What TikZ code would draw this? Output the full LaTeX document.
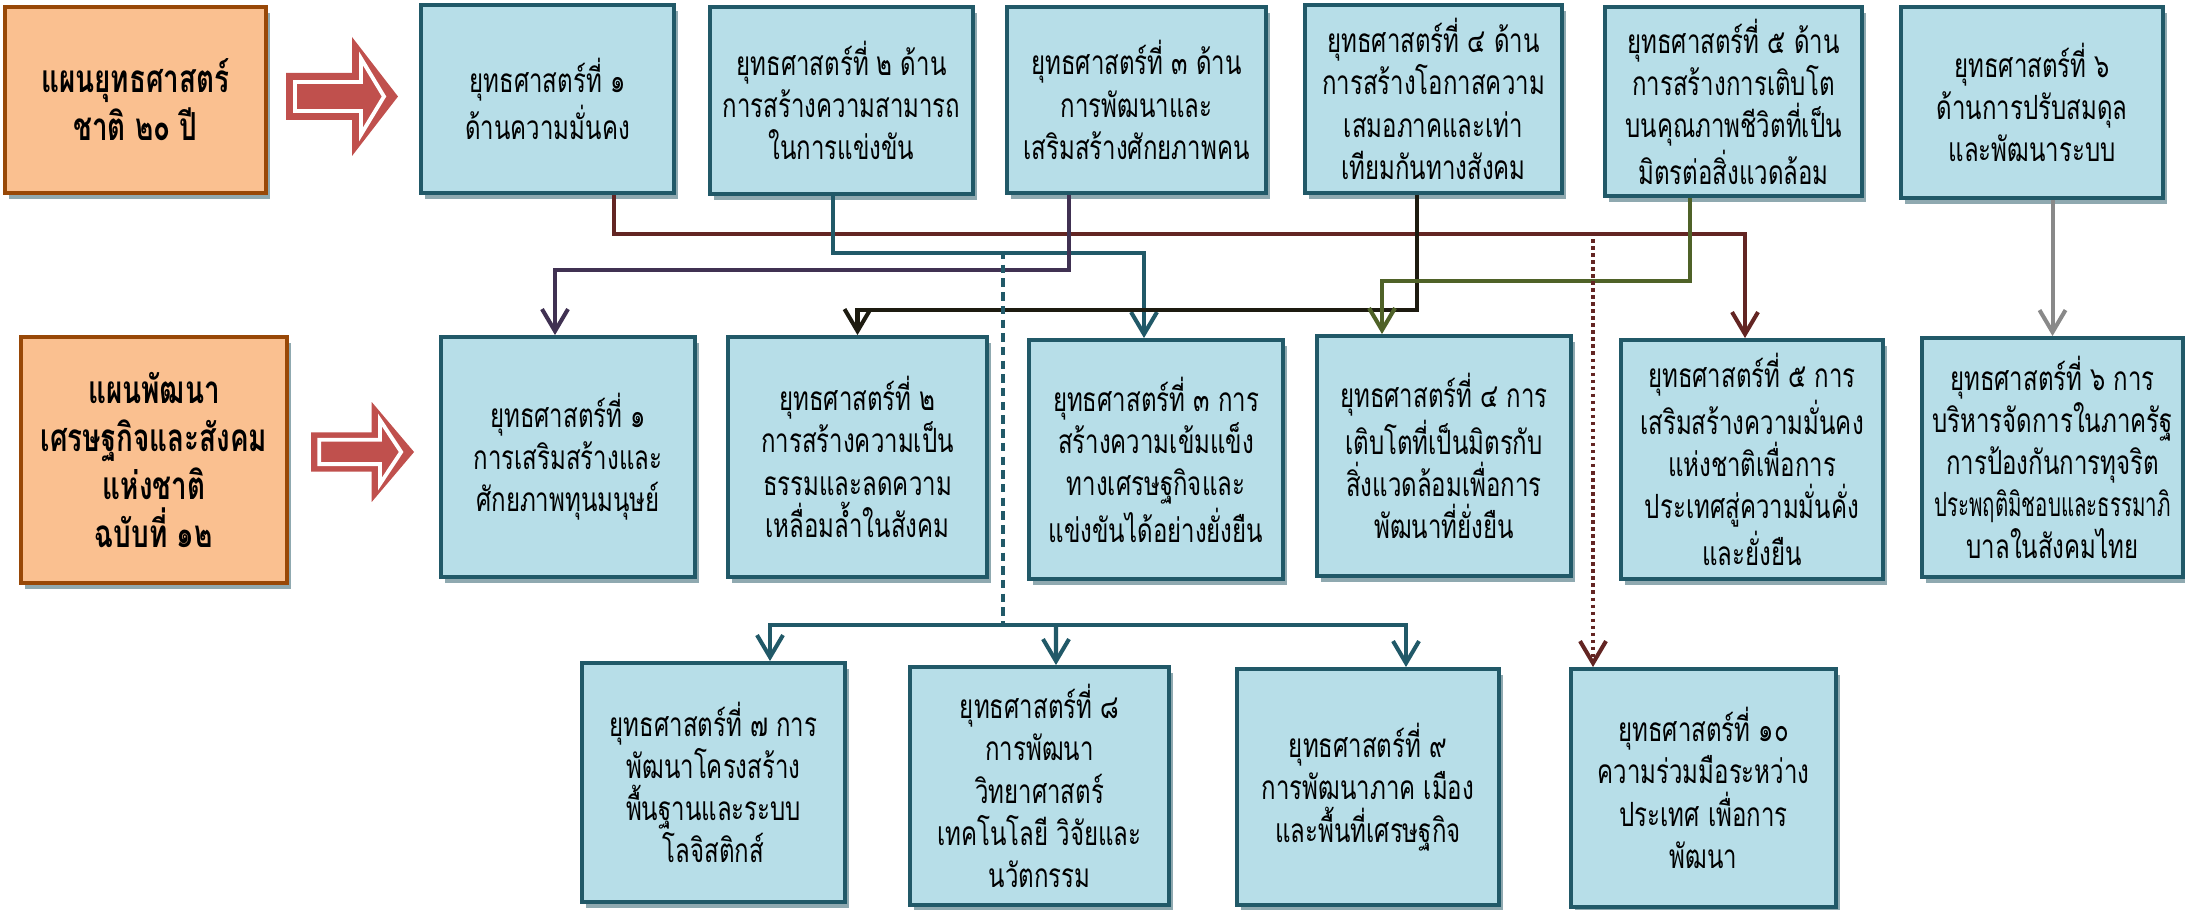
\documentclass[tikz,border=0pt]{standalone}
\usepackage{fontspec}
\newfontfamily\thaifont[Script=Thai, FakeStretch=0.72]{Loma}
\usepackage{tikz}
\usetikzlibrary{arrows.meta}
\usetikzlibrary{shadows}
\definecolor{planfill}{HTML}{FAC090}
\definecolor{planedge}{HTML}{984807}
\definecolor{stratfill}{HTML}{B7DEE8}
\definecolor{stratedge}{HTML}{215968}
\definecolor{shadegrey}{HTML}{8FA9B0}
\definecolor{arrowred}{HTML}{C0504D}
\definecolor{lmaroon}{HTML}{632523}
\definecolor{lpurple}{HTML}{403152}
\definecolor{lteal}{HTML}{215968}
\definecolor{lblack}{HTML}{1D1B10}
\definecolor{lolive}{HTML}{4F6228}
\definecolor{lgrey}{HTML}{898989}
\tikzset{
stratbox/.style 2 args = {draw=stratedge, fill=stratfill, line width=1.1pt,
    minimum width=#1, minimum height=#2, align=center, inner sep=2pt,
    font=\thaifont\fontsize{9.5}{12}\selectfont,
    general shadow={fill=shadegrey, shadow xshift=0.04cm, shadow yshift=-0.06cm}},
planbox/.style 2 args = {stratbox={#1}{#2}, draw=planedge, fill=planfill,
    font=\thaifont\bfseries\fontsize{11}{13.7}\selectfont},
link/.style = {line width=1.15pt, -{Straight Barb[length=2.2mm,width=2.6mm]}},
bigarrow/.pic = {
    \fill[arrowred] (0,0.235) -- (0.66,0.235) -- (0.66,0.595) -- (1.12,0)
        -- (0.66,-0.595) -- (0.66,-0.235) -- (0,-0.235) -- cycle;
    \draw[white, line width=1.1pt] (0.09,0.145) -- (0.75,0.145) -- (0.75,0.38)
        -- (0.98,0) -- (0.75,-0.38) -- (0.75,-0.145) -- (0.09,-0.145) -- cycle;
}
}
\tikzstyle{junction}=[inner sep=0pt]

\begin{document}
\begin{tikzpicture}
    \useasboundingbox (0,0) rectangle (21.85,-9.10);

    % plans
    \node[planbox={2.61cm}{1.86cm}] (nesp) at (1.355,-1.00) {แผนยุทธศาสตร์\\ชาติ ๒๐ ปี};
    \node[planbox={2.66cm}{2.46cm}] (nesdp) at (1.54,-4.60) {แผนพัฒนา\\เศรษฐกิจและสังคม\\แห่งชาติ\\ฉบับที่ ๑๒};
    \pic at (2.86,-0.965) {bigarrow};
    \pic[xscale=0.92, yscale=0.84] at (3.11,-4.52) {bigarrow};

    % 20-year strategies
    \node[stratbox={2.53cm}{1.88cm}] (t1) at (5.475,-0.99) {ยุทธศาสตร์ที่ ๑\\ด้านความมั่นคง};
    \node[stratbox={2.63cm}{1.87cm}] (t2) at (8.415,-1.005) {ยุทธศาสตร์ที่ ๒ ด้าน\\การสร้างความสามารถ\\ในการแข่งขัน};
    \node[stratbox={2.59cm}{1.86cm}] (t3) at (11.365,-1.00) {ยุทธศาสตร์ที่ ๓ ด้าน\\การพัฒนาและ\\เสริมสร้างศักยภาพคน};
    \node[stratbox={2.57cm}{1.88cm}] (t4) at (14.335,-0.99) {ยุทธศาสตร์ที่ ๔ ด้าน\\การสร้างโอกาสความ\\เสมอภาคและเท่า\\เทียมกันทางสังคม};
    \node[stratbox={2.57cm}{1.89cm}] (t5) at (17.335,-1.015) {ยุทธศาสตร์ที่ ๕ ด้าน\\การสร้างการเติบโต\\บนคุณภาพชีวิตที่เป็น\\มิตรต่อสิ่งแวดล้อม};
    \node[stratbox={2.62cm}{1.91cm}] (t6) at (20.32,-1.025) {ยุทธศาสตร์ที่ ๖\\ด้านการปรับสมดุล\\และพัฒนาระบบ};

    % plan 12 strategies
    \node[stratbox={2.54cm}{2.40cm}] (p1) at (5.68,-4.57) {ยุทธศาสตร์ที่ ๑\\การเสริมสร้างและ\\ศักยภาพทุนมนุษย์};
    \node[stratbox={2.59cm}{2.40cm}] (p2) at (8.575,-4.57) {ยุทธศาสตร์ที่ ๒\\การสร้างความเป็น\\ธรรมและลดความ\\เหลื่อมล้ำในสังคม};
    \node[stratbox={2.54cm}{2.39cm}] (p3) at (11.56,-4.595) {ยุทธศาสตร์ที่ ๓ การ\\สร้างความเข้มแข็ง\\ทางเศรษฐกิจและ\\แข่งขันได้อย่างยั่งยืน};
    \node[stratbox={2.54cm}{2.40cm}] (p4) at (14.44,-4.56) {ยุทธศาสตร์ที่ ๔ การ\\เติบโตที่เป็นมิตรกับ\\สิ่งแวดล้อมเพื่อการ\\พัฒนาที่ยั่งยืน};
    \node[stratbox={2.62cm}{2.39cm}] (p5) at (17.52,-4.595) {ยุทธศาสตร์ที่ ๕ การ\\เสริมสร้างความมั่นคง\\แห่งชาติเพื่อการ\\ประเทศสู่ความมั่นคั่ง\\และยั่งยืน};
    \node[stratbox={2.61cm}{2.39cm}] (p6) at (20.525,-4.575) {ยุทธศาสตร์ที่ ๖ การ\\บริหารจัดการในภาครัฐ\\การป้องกันการทุจริต\\\scalebox{0.85}[1]{ประพฤติมิชอบและธรรมาภิ}\\บาลในสังคมไทย};
    \node[stratbox={2.63cm}{2.39cm}] (p7) at (7.135,-7.825) {ยุทธศาสตร์ที่ ๗ การ\\พัฒนาโครงสร้าง\\พื้นฐานและระบบ\\โลจิสติกส์};
    \node[stratbox={2.59cm}{2.38cm}] (p8) at (10.395,-7.86) {ยุทธศาสตร์ที่ ๘\\การพัฒนา\\วิทยาศาสตร์\\เทคโนโลยี วิจัยและ\\นวัตกรรม};
    \node[stratbox={2.62cm}{2.36cm}] (p9) at (13.68,-7.87) {ยุทธศาสตร์ที่ ๙\\การพัฒนาภาค เมือง\\และพื้นที่เศรษฐกิจ};
    \node[stratbox={2.65cm}{2.38cm}] (p10) at (17.035,-7.88) {ยุทธศาสตร์ที่ ๑๐\\ความร่วมมือระหว่าง\\ประเทศ เพื่อการ\\พัฒนา};

    \coordinate (jteal) at (10.03,-2.51);
    \coordinate (hub) at (10.03,-6.25);
    \coordinate (jmaroon) at (15.93,-2.32);

    \draw[link, lmaroon] ([xshift=0.665cm]t1.south) -- ++(0,-0.39) -| ([xshift=-0.07cm]p5.north);
    \draw[link, lteal] ([xshift=-0.085cm]t2.south) -- ++(0,-0.57) -| ([xshift=-0.12cm]p3.north);
    \draw[link, lpurple] ([xshift=-0.675cm]t3.south) -- ++(0,-0.75) -| ([xshift=-0.13cm]p1.north);
    \draw[link, lblack] ([xshift=-0.165cm]t4.south) -- ++(0,-1.15) -| (p2.north);
    \draw[link, lolive] ([xshift=-0.435cm]t5.south) -- ++(0,-0.83) -| ([xshift=-0.62cm]p4.north);
    \draw[link, lgrey] (p6.north |- t6.south) -- (p6.north);

    \draw[lteal, line width=1.15pt, dash pattern=on 2.4pt off 1.5pt] (jteal) -- (hub);
    \draw[link, lteal] (hub) -| ([xshift=0.565cm]p7.north);
    \draw[link, lteal] (hub) -| ([xshift=0.38cm]p9.north);
    \draw[link, lteal] ([xshift=0.53cm]hub) -- ([xshift=0.165cm]p8.north);
    \draw[link, lmaroon, dash pattern=on 1pt off 1pt] (jmaroon) -- (jmaroon |- p10.north);
\end{tikzpicture}
\end{document}
